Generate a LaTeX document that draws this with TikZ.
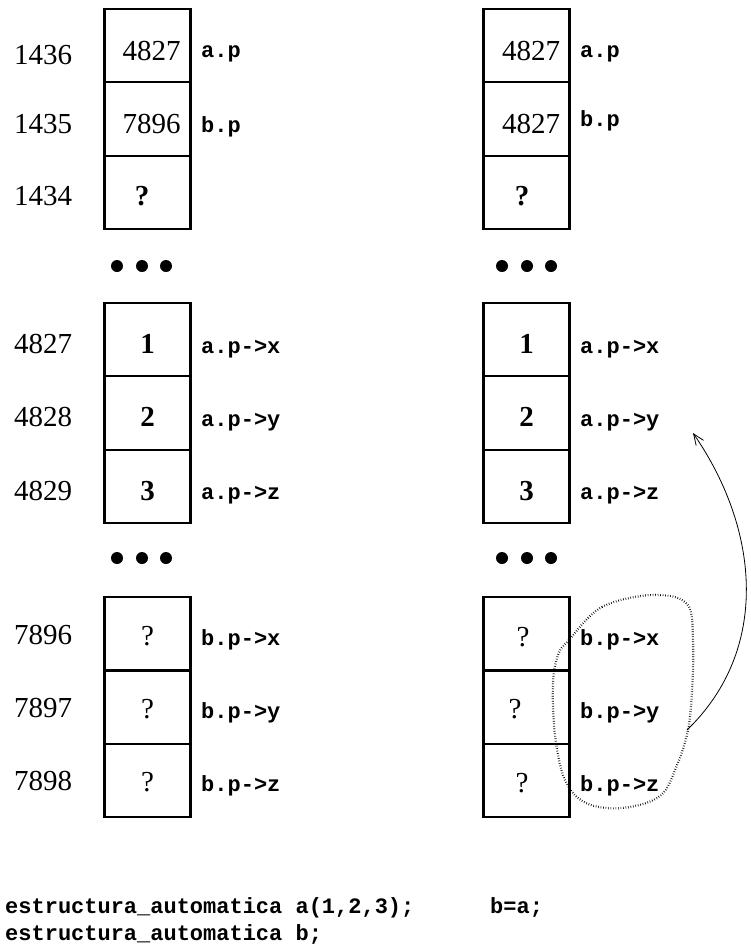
\documentclass[tikz,border=0pt]{standalone}
\usepackage{fontspec}
\setmainfont{Liberation Serif}
\setmonofont{Liberation Mono}
\usetikzlibrary{arrows.meta}
\begin{document}
\begin{tikzpicture}[x=1pt,y=-1pt,
  cell/.style={draw, line width=2.2pt, minimum width=86pt, minimum height=73.5pt, inner sep=0pt},
  addr/.style={font=\fontsize{29}{29}\selectfont, anchor=base, inner sep=0pt},
  val/.style={font=\fontsize{29}{29}\selectfont, anchor=base, inner sep=0pt},
  valb/.style={font=\fontsize{29}{29}\selectfont\bfseries, anchor=base, inner sep=0pt},
  lab/.style={font=\fontsize{22}{22}\selectfont\ttfamily\bfseries, anchor=base west, inner sep=0pt},
  dotmark/.style={fill=black},
  blob/.style={line width=2.2pt, dash pattern=on 0.6pt off 1.9pt},
  arr/.style={line width=0.8pt, -{Straight Barb[length=11pt,width=9pt,line width=0.8pt]}}]
\useasboundingbox (0,0) rectangle (751,946);
% cells
\foreach \i/\y in {1/45.5,2/119,3/192.5,4/339.5,5/413,6/486.5,7/634,8/707,9/780.5} {
  \node[cell] (L\i) at (147.5,\y) {};
  \node[cell] (R\i) at (526.5,\y) {};
}
% addresses
\node[addr] (ad1) at (43,64) {1436};
\node[addr] (ad2) at (43,133) {1435};
\node[addr] (ad3) at (43,205) {1434};
\node[addr] (ad4) at (43,353) {4827};
\node[addr] (ad5) at (43,426.5) {4828};
\node[addr] (ad6) at (43,500) {4829};
\node[addr] (ad7) at (43,644) {7896};
\node[addr] (ad8) at (43,717) {7897};
\node[addr] (ad9) at (43,790) {7898};
% left values
\node[val] (lv1) at (151.5,60) {4827};
\node[val] (lv2) at (151.5,133) {7896};
\node[valb] (lv3) at (142,205) {?};
\node[valb] (lv4) at (147.5,353) {1};
\node[valb] (lv5) at (147.5,426.5) {2};
\node[valb] (lv6) at (147.5,500) {3};
\node[val] (lv7) at (147.5,645) {?};
\node[val] (lv8) at (147.5,718) {?};
\node[val] (lv9) at (147.5,791) {?};
% right values
\node[val] (rv1) at (531,60) {4827};
\node[val] (rv2) at (531,133) {4827};
\node[valb] (rv3) at (522,205) {?};
\node[valb] (rv4) at (526.5,353) {1};
\node[valb] (rv5) at (526.5,426.5) {2};
\node[valb] (rv6) at (526.5,500) {3};
\node[val] (rv7) at (523,646) {?};
\node[val] (rv8) at (515,718) {?};
\node[val] (rv9) at (522,792) {?};
% left labels
\node[lab] (ll1) at (201,57) {a.p};
\node[lab] (ll2) at (201,132) {b.p};
\node[lab] (ll4) at (201,353) {a.p->x};
\node[lab] (ll5) at (201,426) {a.p->y};
\node[lab] (ll6) at (201,499) {a.p->z};
\node[lab] (ll7) at (201,645) {b.p->x};
\node[lab] (ll8) at (201,718) {b.p->y};
\node[lab] (ll9) at (201,791) {b.p->z};
% right labels
\node[lab] (rl1) at (580,57) {a.p};
\node[lab] (rl2) at (580,126) {b.p};
\node[lab] (rl4) at (580,353) {a.p->x};
\node[lab] (rl5) at (580,426) {a.p->y};
\node[lab] (rl6) at (580,499) {a.p->z};
\node[lab] (rl7) at (580,645) {b.p->x};
\node[lab] (rl8) at (580,718) {b.p->y};
\node[lab] (rl9) at (580,791) {b.p->z};
% dots
\foreach \x in {117,142,166} {
  \fill[dotmark] (\x,266) circle (6);
  \fill[dotmark] (\x,558) circle (6);
}
\foreach \x in {502,527,551} {
  \fill[dotmark] (\x,266) circle (6);
  \fill[dotmark] (\x,558) circle (6);
}
% dotted blob
\draw[blob] plot[smooth cycle, tension=0.6] coordinates {
  (569,640) (602,607) (653,595) (687,604) (693,640) (692,690) (688,730)
  (677,765) (660,796) (622,808) (586,803) (565,780) (555,735) (553,685) (558,655)};
% arrow
\coordinate (bs) at (687,730);
\coordinate (at) at (693,433);
\draw[arr] (bs) .. controls (770,650) and (760,530) .. (at);
% code
\node[lab] (c1) at (5,913) {estructura\_automatica a(1,2,3);};
\node[lab] (c2) at (5,940) {estructura\_automatica b;};
\node[lab] (c3) at (490,913) {b=a;};
\end{tikzpicture}
\end{document}
